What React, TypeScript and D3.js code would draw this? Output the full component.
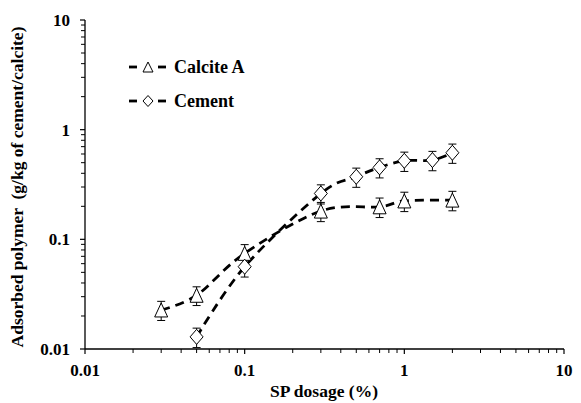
import React from "react";
import * as d3 from "d3";

const calciteX = [0.03, 0.05, 0.1, 0.3, 0.7, 1, 2];
const calciteY = [0.0227, 0.0309, 0.0745, 0.181, 0.198, 0.224, 0.228];
const calciteErr = [0.0045, 0.006, 0.015, 0.036, 0.04, 0.045, 0.046];

const cementX = [0.05, 0.1, 0.3, 0.5, 0.7, 1, 1.5, 2];
const cementY = [0.0129, 0.0563, 0.262, 0.372, 0.453, 0.52, 0.528, 0.616];
const cementErr = [0.0026, 0.011, 0.052, 0.074, 0.09, 0.104, 0.106, 0.123];

const xTicks = [0.01, 0.1, 1, 10];
const xTickLabels = ["0.01", "0.1", "1", "10"];
const yTicks = [0.01, 0.1, 1, 10];
const yTickLabels = ["0.01", "0.1", "1", "10"];

const seriesNames = ["Calcite A", "Cement"];
const xTitle = "SP dosage (%)";
const yTitle = "Adsorbed polymer  (g/kg of cement/calcite)";

const W = 581;
const H = 403;
const FONT = "Liberation Serif, Times New Roman, DejaVu Serif, serif";
const txt = (size: number) => ({ fontFamily: FONT, fontWeight: 700, fontSize: size, whiteSpace: "pre" as const });

const x = d3.scaleLog().domain([0.01, 10]).range([85, 564]);
const y = d3.scaleLog().domain([0.01, 10]).range([349, 20]);

function minorTicks(): number[] {
  const out: number[] = [];
  for (let e = -2; e < 1; e++) {
    for (let m = 2; m <= 9; m++) out.push(m * Math.pow(10, e));
  }
  return out;
}

const triPath = (cx: number, cy: number, w: number, h: number) =>
  `M${cx},${cy - h / 2}L${cx + w / 2},${cy + h / 2}L${cx - w / 2},${cy + h / 2}Z`;
const diaPath = (cx: number, cy: number, w: number, h: number) =>
  `M${cx},${cy - h / 2}L${cx + w / 2},${cy}L${cx},${cy + h / 2}L${cx - w / 2},${cy}Z`;

export default function App() {
  const line = d3
    .line<[number, number]>()
    .x((d) => x(d[0]))
    .y((d) => y(d[1]))
    .curve(d3.curveCardinal.tension(0));

  const calcPts = calciteX.map((v, i) => [v, calciteY[i]] as [number, number]);
  const cemPts = cementX.map((v, i) => [v, cementY[i]] as [number, number]);
  const minors = minorTicks();

  const errBars = (xs: number[], ys: number[], es: number[], key: string) =>
    xs.map((xv, i) => {
      const cx = x(xv);
      const y1 = y(ys[i] + es[i]);
      const y2 = y(ys[i] - es[i]);
      return (
        <g key={key + i} stroke="#000" strokeWidth={1}>
          <line x1={cx} x2={cx} y1={y1} y2={y2} />
          <line x1={cx - 4} x2={cx + 4} y1={y1} y2={y1} />
          <line x1={cx - 4} x2={cx + 4} y1={y2} y2={y2} />
        </g>
      );
    });

  return (
    <svg
      width={W}
      height={H}
      style={{ position: "absolute", left: 0, top: 0, background: "#fff" }}
    >
      <rect x={0} y={0} width={W} height={H} fill="#fff" />
      {/* axes */}
      <line x1={x(0.01)} x2={x(10)} y1={y(0.01)} y2={y(0.01)} stroke="#000" strokeWidth={1.3} />
      <line x1={x(0.01)} x2={x(0.01)} y1={y(0.01)} y2={y(10)} stroke="#000" strokeWidth={1.3} />
      {xTicks.map((t, i) => (
        <g key={"xt" + i}>
          <line x1={x(t)} x2={x(t)} y1={y(0.01)} y2={y(0.01) + 5} stroke="#000" strokeWidth={1.2} />
          <text x={x(t)} y={376} textAnchor="middle" style={txt(17)}>
            {xTickLabels[i]}
          </text>
        </g>
      ))}
      {minors.map((t, i) => (
        <line key={"xm" + i} x1={x(t)} x2={x(t)} y1={y(0.01)} y2={y(0.01) + 4} stroke="#000" strokeWidth={1} />
      ))}
      {yTicks.map((t, i) => (
        <g key={"yt" + i}>
          <line x1={x(0.01) - 5} x2={x(0.01)} y1={y(t)} y2={y(t)} stroke="#000" strokeWidth={1.2} />
          <text x={70} y={y(t) + 6} textAnchor="end" style={txt(17)}>
            {yTickLabels[i]}
          </text>
        </g>
      ))}
      {minors.map((t, i) => (
        <line key={"ym" + i} x1={x(0.01) - 4} x2={x(0.01)} y1={y(t)} y2={y(t)} stroke="#000" strokeWidth={1} />
      ))}
      <text x={324} y={397} textAnchor="middle" style={txt(17.5)}>
        {xTitle}
      </text>
      <text transform={`translate(23,187) rotate(-90)`} textAnchor="middle" style={txt(17.5)}>
        {yTitle}
      </text>

      {/* lines */}
      <path d={line(calcPts) || ""} fill="none" stroke="#000" strokeWidth={2.8} strokeDasharray="9,6" />
      <path d={line(cemPts) || ""} fill="none" stroke="#000" strokeWidth={2.8} strokeDasharray="9,6" />

      {errBars(calciteX, calciteY, calciteErr, "ec")}
      {errBars(cementX, cementY, cementErr, "em")}

      {calcPts.map((p, i) => (
        <path key={"tm" + i} d={triPath(x(p[0]), y(p[1]), 13, 14)} fill="#fff" stroke="#000" strokeWidth={1} />
      ))}
      {cemPts.map((p, i) => (
        <path key={"dm" + i} d={diaPath(x(p[0]), y(p[1]), 13, 15)} fill="#fff" stroke="#000" strokeWidth={1} />
      ))}

      {/* legend */}
      {seriesNames.map((name, i) => {
        const ly = i === 0 ? 67 : 101;
        return (
          <g key={"lg" + i}>
            <line x1={129} x2={137} y1={ly} y2={ly} stroke="#000" strokeWidth={2.8} />
            <line x1={158} x2={166} y1={ly} y2={ly} stroke="#000" strokeWidth={2.8} />
            {i === 0 ? (
              <path d={triPath(148, ly, 10, 10)} fill="#fff" stroke="#000" strokeWidth={1} />
            ) : (
              <path d={diaPath(148, ly, 10, 11)} fill="#fff" stroke="#000" strokeWidth={1} />
            )}
            <text x={174} y={ly + 6} style={txt(18)}>
              {name}
            </text>
          </g>
        );
      })}
    </svg>
  );
}
